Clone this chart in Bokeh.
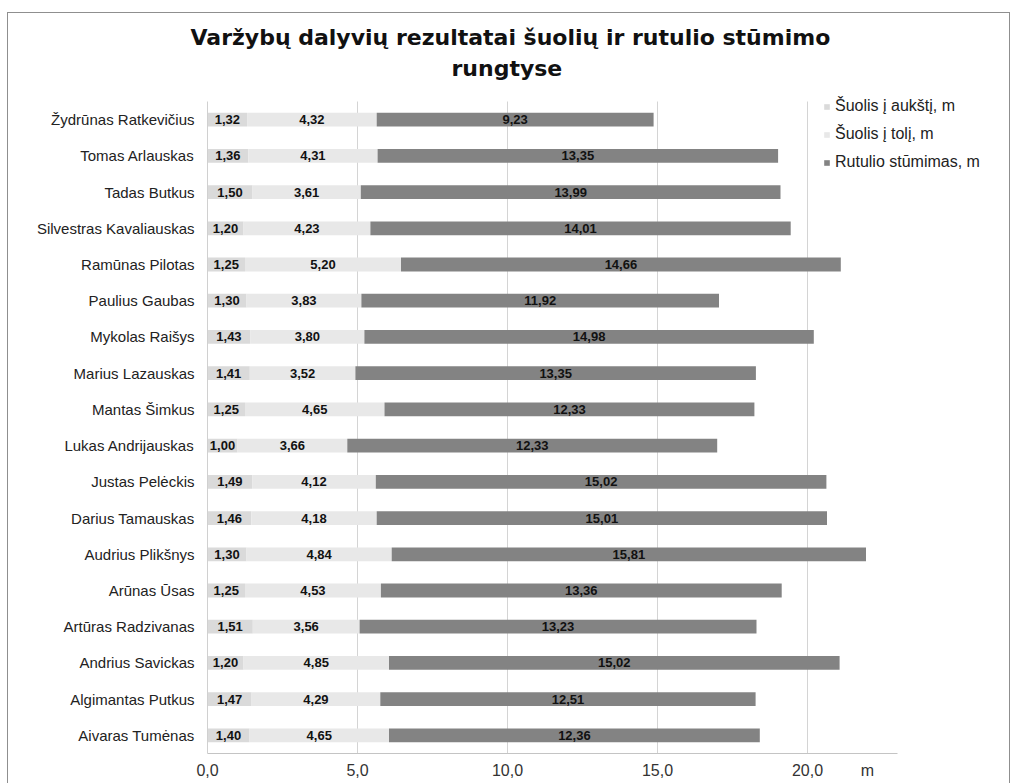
from bokeh.plotting import figure
from bokeh.models import ColumnDataSource, Range1d, FixedTicker, Title
from bokeh.core.properties import value
from bokeh.embed import file_html
from bokeh.resources import INLINE
import numpy as np

# ---- data (top to bottom as in the chart) ----
athletes = [
    "Žydrūnas Ratkevičius", "Tomas Arlauskas", "Tadas Butkus",
    "Silvestras Kavaliauskas", "Ramūnas Pilotas", "Paulius Gaubas",
    "Mykolas Raišys", "Marius Lazauskas", "Mantas Šimkus",
    "Lukas Andrijauskas", "Justas Pelėckis", "Darius Tamauskas",
    "Audrius Plikšnys", "Arūnas Ūsas", "Artūras Radzivanas",
    "Andrius Savickas", "Algimantas Putkus", "Aivaras Tumėnas",
]
high_jump = [1.32, 1.36, 1.50, 1.20, 1.25, 1.30, 1.43, 1.41, 1.25,
             1.00, 1.49, 1.46, 1.30, 1.25, 1.51, 1.20, 1.47, 1.40]
long_jump = [4.32, 4.31, 3.61, 4.23, 5.20, 3.83, 3.80, 3.52, 4.65,
             3.66, 4.12, 4.18, 4.84, 4.53, 3.56, 4.85, 4.29, 4.65]
shot_put = [9.23, 13.35, 13.99, 14.01, 14.66, 11.92, 14.98, 13.35, 12.33,
            12.33, 15.02, 15.01, 15.81, 13.36, 13.23, 15.02, 12.51, 12.36]
series_names = ["Šuolis į aukštį, m", "Šuolis į tolį, m", "Rutulio stūmimas, m"]
x_ticks = [0, 5, 10, 15, 20]
x_tick_labels = ["0,0", "5,0", "10,0", "15,0", "20,0"]
unit_label = "m"
title_line1 = "Varžybų dalyvių rezultatai šuolių ir rutulio stūmimo"
title_line2 = "rungtyse"

UNIT_POS = 22
AXIS_END = 23
colors = ["#dadada", "#e8e8e8", "#838383"]
FONT = "Liberation Sans"


def fmt(v):
    return f"{v:.2f}".replace(".", ",")


n = len(athletes)
ypos = np.arange(n)[::-1]          # first athlete on top
hj = np.array(high_jump)
lj = np.array(long_jump)
sp = np.array(shot_put)

src = ColumnDataSource(dict(y=ypos, name=athletes, hj=hj, lj=lj, sp=sp))

lab = ColumnDataSource(dict(
    x=np.concatenate([hj / 2, hj + lj / 2, hj + lj + sp / 2]),
    y=np.tile(ypos, 3),
    t=[fmt(v) for v in high_jump + long_jump + shot_put],
))

# ---- layout (pixels) ----
W, H = 1014, 783
LEFT, RIGHT, BOTTOM = 207, 4, 30
CAT_TOP = 101                  # top of the category area
FRAME_TOP = 84                 # frame reaches a bit higher so the legend is not clipped
row_px = (H - BOTTOM - CAT_TOP) / n
px_per_unit = 690 / AXIS_END
x_end = (W - LEFT - RIGHT) / px_per_unit
y_end = -0.5 + (H - BOTTOM - FRAME_TOP) / row_px

p = figure(width=W, height=H,
           x_range=Range1d(0, x_end), y_range=Range1d(-0.5, y_end),
           output_backend="svg", toolbar_location=None,
           min_border_left=LEFT, min_border_right=RIGHT,
           min_border_top=FRAME_TOP, min_border_bottom=BOTTOM)

p.hbar_stack(["hj", "lj", "sp"], y="y", height=0.38, color=colors,
             line_color=None, source=src, legend_label=series_names)

p.text(x="x", y="y", text="t", source=lab,
       text_font=value(FONT), text_font_style="bold", text_font_size="13px",
       text_align="center", text_baseline="middle", text_color="#111111")

# title (two lines, centred on the sheet)
t2 = Title(text=title_line2, align="left", offset=244,
           text_font="DejaVu Sans", text_font_style="bold",
           text_font_size="22px", text_color="#111111", standoff=8)
t1 = Title(text=title_line1, align="left", offset=-17,
           text_font="DejaVu Sans", text_font_style="bold",
           text_font_size="22px", text_color="#111111", standoff=0)
p.add_layout(t2, "above")
p.add_layout(t1, "above")

# axes
p.xaxis.ticker = FixedTicker(ticks=x_ticks + [UNIT_POS])
ov = {t: l for t, l in zip(x_ticks, x_tick_labels)}
ov[UNIT_POS] = unit_label
p.xaxis.major_label_overrides = ov
p.xaxis.bounds = (0, AXIS_END)
p.xaxis.major_label_text_font = FONT
p.xaxis.major_label_text_font_size = "16px"
p.xaxis.major_label_text_color = "#333333"
p.xaxis.major_label_standoff = 8
p.xaxis.major_tick_line_color = None
p.xaxis.major_tick_out = 0
p.xaxis.minor_tick_line_color = None
p.xaxis.axis_line_color = "#c4c4c4"

p.yaxis.ticker = FixedTicker(ticks=[int(v) for v in ypos])
p.yaxis.major_label_overrides = {int(v): nm for v, nm in zip(ypos, athletes)}
p.yaxis.bounds = (-0.5, n - 0.5)
p.yaxis.major_label_text_font = FONT
p.yaxis.major_label_text_font_size = "15px"
p.yaxis.major_label_text_color = "#222222"
p.yaxis.major_tick_line_color = None
p.yaxis.minor_tick_line_color = None
p.yaxis.major_tick_out = 0
p.yaxis.major_label_standoff = 13
p.yaxis.axis_line_color = "#d0d0d0"

p.xgrid.ticker = FixedTicker(ticks=x_ticks[1:])
p.xgrid.grid_line_color = "#d4d4d4"
try:
    p.xgrid.cross_bounds = (-0.5, n - 0.5)
except Exception:
    pass
p.ygrid.grid_line_color = None
p.outline_line_color = None

# legend
leg = p.legend[0]
leg.location = (616, 582)
leg.border_line_color = None
leg.background_fill_alpha = 0
leg.label_text_font = FONT
leg.label_text_font_size = "16px"
leg.label_text_color = "#222222"
leg.glyph_width = 7
leg.glyph_height = 7
leg.label_standoff = 5
leg.spacing = 10
leg.padding = 0
leg.margin = 0

# thin outer frame of the chart sheet (left, top, right edges)
p.background_fill_color = None
p.border_fill_color = None
line = "linear-gradient(#8f8f8f,#8f8f8f)"
p.styles = {
    "background": (f"{line} 7px 12px / 1px 100% no-repeat, "
                   f"{line} 7px 12px / 1003px 1px no-repeat, "
                   f"{line} 1009px 12px / 1px 100% no-repeat, white"),
}

open("out.html", "w").write(file_html(p, INLINE))
